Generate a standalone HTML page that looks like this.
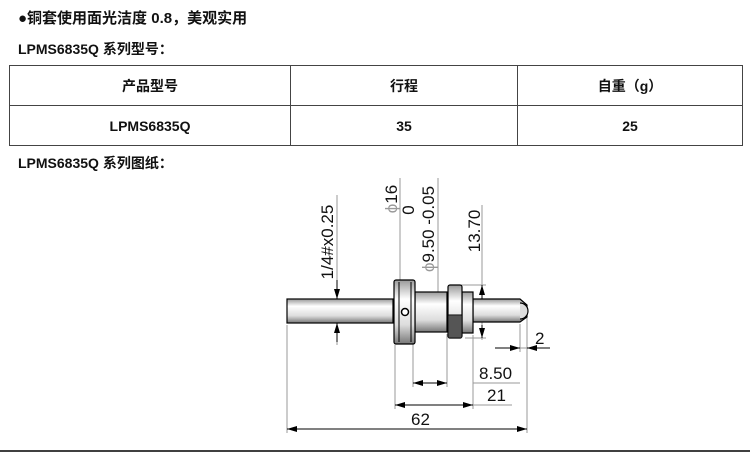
<!DOCTYPE html>
<html><head><meta charset="utf-8"><style>
body{margin:0;background:#fff;width:750px;height:469px;overflow:hidden;position:relative;font-family:"Liberation Sans","Noto Sans CJK SC",sans-serif;color:#111}
.t{position:absolute;font-size:14px;font-weight:bold;white-space:nowrap}
table{position:absolute;left:9px;top:65px;width:734px;border-collapse:collapse}
td{border:1.5px solid #444;height:39px;text-align:center;font-size:14px;font-weight:bold;padding:0}
</style></head><body>
<div class="t" style="left:18px;top:7px;font-size:15px">●铜套使用面光洁度 0.8，美观实用</div>
<div class="t" style="left:18px;top:39px">LPMS6835Q 系列型号：</div>
<table><tr><td style="width:280px">产品型号</td><td style="width:226px">行程</td><td>自重（g）</td></tr>
<tr><td>LPMS6835Q</td><td>35</td><td>25</td></tr></table>
<div class="t" style="left:18px;top:153px">LPMS6835Q 系列图纸：</div>
<svg width="750" height="469" style="position:absolute;left:0;top:0" font-family="Liberation Sans, sans-serif" font-size="16">
<defs>
<linearGradient id="g" x1="0" y1="0" x2="0" y2="1"><stop offset="0" stop-color="#999"/><stop offset=".3" stop-color="#fff"/><stop offset=".7" stop-color="#ddd"/><stop offset="1" stop-color="#777"/></linearGradient>
<marker id="a" markerWidth="10" markerHeight="6" refX="10" refY="3" orient="auto" markerUnits="userSpaceOnUse"><path d="M0,0 L10,3 L0,6z" fill="#000"/></marker>
</defs>
<g stroke="#999" stroke-width="1" fill="none">
<line x1="287" y1="325" x2="287" y2="433"/><line x1="395" y1="345" x2="395" y2="409"/>
<line x1="413" y1="340" x2="413" y2="387"/><line x1="447" y1="334" x2="447" y2="387"/>
<line x1="473" y1="335" x2="473" y2="409"/><line x1="527" y1="313" x2="527" y2="433"/>
<line x1="520" y1="324" x2="520" y2="352"/>
<line x1="337" y1="195" x2="337" y2="345"/><line x1="400" y1="178" x2="400" y2="280"/>
<line x1="438" y1="178" x2="438" y2="332"/><line x1="482" y1="205" x2="482" y2="340"/>
<line x1="455" y1="285" x2="486" y2="285"/><line x1="465" y1="338" x2="486" y2="338"/>
<line x1="473" y1="383" x2="520" y2="383"/><line x1="473" y1="405" x2="512" y2="405"/>
<line x1="495" y1="348" x2="550" y2="348"/>
</g>
<g stroke="#000" stroke-width="1">
<line x1="337" y1="280" x2="337" y2="299" marker-end="url(#a)"/><line x1="337" y1="342" x2="337" y2="323" marker-end="url(#a)"/>
<line x1="438" y1="312" x2="438" y2="292" marker-end="url(#a)"/><line x1="438" y1="312" x2="438" y2="332" marker-end="url(#a)"/>
<line x1="482" y1="300" x2="482" y2="285" marker-end="url(#a)"/><line x1="482" y1="325" x2="482" y2="338" marker-end="url(#a)"/>
<line x1="495" y1="348" x2="520" y2="348" marker-end="url(#a)"/><line x1="550" y1="348" x2="527" y2="348" marker-end="url(#a)"/>
<line x1="430" y1="383" x2="413" y2="383" marker-end="url(#a)"/><line x1="430" y1="383" x2="447" y2="383" marker-end="url(#a)"/>
<line x1="430" y1="405" x2="395" y2="405" marker-end="url(#a)"/><line x1="430" y1="405" x2="473" y2="405" marker-end="url(#a)"/>
<line x1="407" y1="429" x2="287" y2="429" marker-end="url(#a)"/><line x1="407" y1="429" x2="527" y2="429" marker-end="url(#a)"/>
</g>
<g stroke="#000" stroke-width="1.2" fill="url(#g)">
<rect x="287" y="299" width="106" height="24"/>
<path d="M473,299 H520 L527,305 V317 L520,322 H473z"/>
<path d="M520,303 A7,7 0 0 1 520,319" fill="#ddd"/>
<rect x="415" y="292" width="32" height="40"/>
<rect x="462" y="292" width="11" height="41"/>
<rect x="448" y="285" width="14" height="53" rx="2"/>
<rect x="394" y="280" width="21" height="64" rx="2"/>
<circle cx="405" cy="312" r="3.5" fill="#fff" stroke-width="1.5"/>
</g>
<g stroke="#000" stroke-width="1"><line x1="448" y1="315" x2="462" y2="315"/><line x1="399" y1="282" x2="399" y2="342"/><line x1="411" y1="282" x2="411" y2="342"/></g>
<rect x="448.6" y="315.6" width="12.8" height="22" fill="#555"/>
<g fill="#111" font-size="17">
<text transform="translate(333,242) rotate(-90)" text-anchor="middle">1/4#x0.25</text>
<text transform="translate(397,199) rotate(-90)" text-anchor="middle"><tspan fill="#999">ϕ</tspan>16</text>
<text transform="translate(414,210) rotate(-90)" text-anchor="middle">0</text>
<text transform="translate(434,229) rotate(-90)" text-anchor="middle"><tspan fill="#999">ϕ</tspan>9.50 -0.05</text>
<text transform="translate(480,231) rotate(-90)" text-anchor="middle">13.70</text>
<text x="535" y="344">2</text>
<text x="479" y="379">8.50</text>
<text x="487" y="401">21</text>
<text x="411" y="425">62</text>
</g>
<line x1="0" y1="451" x2="750" y2="451" stroke="#000" stroke-width="1.5"/>
</svg>
</body></html>
